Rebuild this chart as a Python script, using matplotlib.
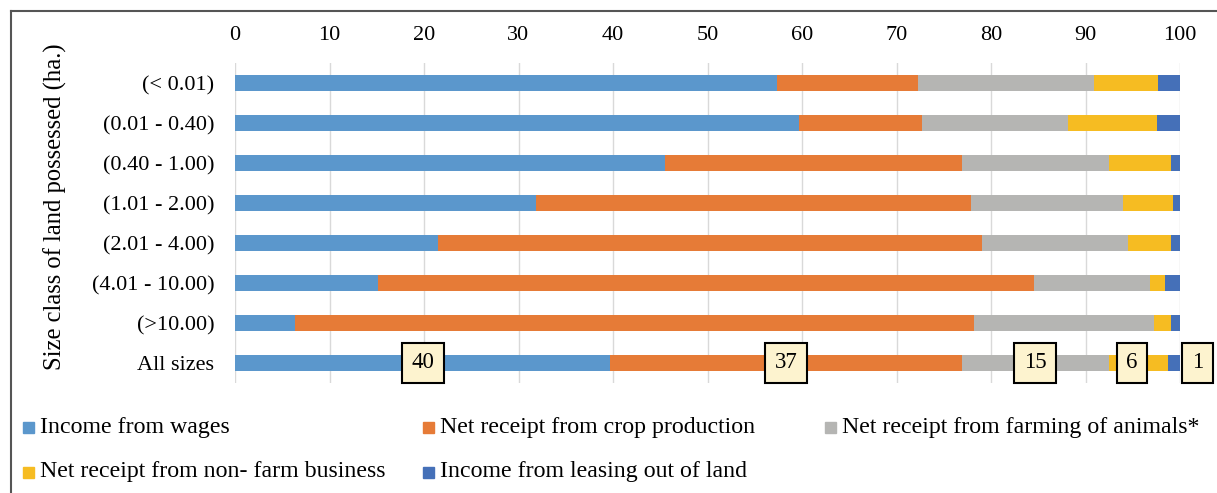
import matplotlib
matplotlib.use('Agg')
from matplotlib import pyplot as plt
from matplotlib.patches import Rectangle
import numpy as np

plt.rcParams['font.family'] = ['Liberation Serif', 'DejaVu Serif']
plt.rcParams['font.size'] = 16

categories = ['(< 0.01)', '(0.01 - 0.40)', '(0.40 - 1.00)', '(1.01 - 2.00)',
              '(2.01 - 4.00)', '(4.01 - 10.00)', '(>10.00)', 'All sizes']

wages = [57.4, 59.7, 45.5, 31.8, 21.5, 15.1, 6.4, 39.7]
crop = [14.9, 13.0, 31.4, 46.1, 57.5, 69.4, 71.8, 37.2]
animals = [18.6, 15.5, 15.6, 16.1, 15.5, 12.3, 19.0, 15.6]
nonfarm = [6.8, 9.4, 6.6, 5.3, 4.6, 1.6, 1.9, 6.2]
leasing = [2.3, 2.4, 0.9, 0.7, 0.9, 1.6, 0.9, 1.3]

series_names = ['Income from wages', 'Net receipt from crop production',
                'Net receipt from farming of animals*',
                'Net receipt from non- farm business',
                'Income from leasing out of land']
colors = ['#5b97cc', '#e67b37', '#b5b5b3', '#f6bc22', '#4570b8']

all_sizes_labels = ['40', '37', '15', '6', '1']

W, H = 1217, 493
fig = plt.figure(figsize=(W / 100, H / 100), dpi=100)
ax = fig.add_axes([235 / W, 1 - 383 / H, 945 / W, 320 / H])

series = [wages, crop, animals, nonfarm, leasing]
y = np.arange(len(categories))
left = np.zeros(len(categories))
for vals, c in zip(series, colors):
    ax.barh(y, vals, left=left, height=0.4, color=c, zorder=2)
    left += np.array(vals)

# data labels on the "All sizes" bar (last two nudged like in the original)
label_shift = [0, 0, 0, -4.5, 17]
start = 0
for vals, lab, dx in zip(series, all_sizes_labels, label_shift):
    centre = start + vals[-1] / 2
    start += vals[-1]
    ax.annotate(lab, (centre, y[-1]), xytext=(dx, 0), textcoords='offset points',
                ha='center', va='center', fontsize=16.5, zorder=5,
                bbox=dict(boxstyle='square,pad=0.42', fc='#fdf3cf', ec='black', lw=1.5))

ax.set_xlim(0, 100)
ax.set_ylim(len(categories) - 0.5, -0.5)
ax.set_xticks(range(0, 101, 10))
ax.set_yticks(y)
ax.set_yticklabels(categories)
ax.xaxis.tick_top()
ax.tick_params(axis='x', length=0, pad=13)
ax.tick_params(axis='y', length=0, pad=15)
ax.grid(axis='x', color='#d9d9d9', lw=1, zorder=0)
for s in ax.spines.values():
    s.set_visible(False)

fig.text(55 / W, 1 - 207 / H, 'Size class of land possessed (ha.)', rotation=90,
         ha='center', va='center', fontsize=17.7)

# legend laid out like the Excel one
legend_pos = [(23, 427), (423, 427), (825, 427), (23, 472), (423, 472)]
for (px, py), name, c in zip(legend_pos, series_names, colors):
    fig.add_artist(Rectangle((px / W, 1 - (py + 5.5) / H), 11 / W, 11 / H,
                             transform=fig.transFigure, color=c))
    fig.text((px + 17) / W, 1 - py / H, name, ha='left', va='center', fontsize=17.2)

# outer border (cropped at right and bottom)
fig.add_artist(plt.Line2D([11 / W, 11 / W], [0, 1 - 11 / H], color='#555555', lw=1.5,
                          transform=fig.transFigure))
fig.add_artist(plt.Line2D([11 / W, 1], [1 - 11 / H, 1 - 11 / H], color='#555555', lw=1.5,
                          transform=fig.transFigure))

fig.savefig('out.png', dpi=100)
